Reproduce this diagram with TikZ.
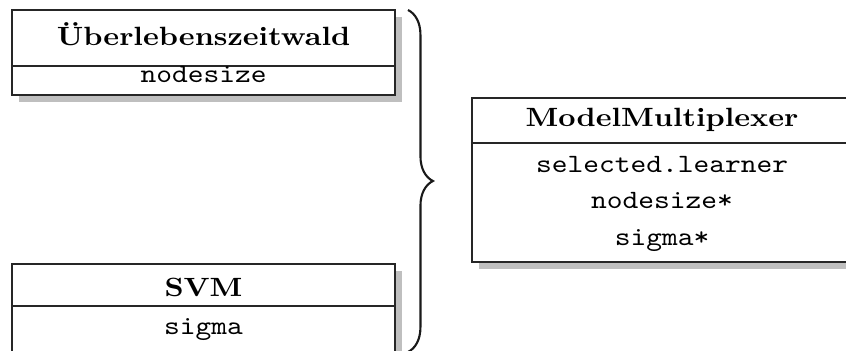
\documentclass[tikz,border=0pt]{standalone}
\usepackage{fontspec}
\usetikzlibrary{fit,shadows,decorations.pathreplacing}
% labels are set slightly flattened
\newcommand\squash[1]{\scalebox{1}[0.88]{#1}}
\begin{document}
\begin{tikzpicture}[x=0.33333pt,y=-0.33333pt,
  classbox/.style={draw=black!85, line width=0.75pt, inner sep=0pt, fill=white,
    drop shadow={shadow xshift=2.2pt, shadow yshift=-2.2pt, fill=black!25, opacity=1}},
  divider/.style={draw=black!85, line width=0.55pt},
  classname/.style={font=\bfseries, anchor=base, inner sep=0pt},
  attrname/.style={font=\ttfamily, anchor=base, inner sep=0pt},
  bracest/.style={draw=black!90, line width=0.7pt, decorate,
    decoration={brace, amplitude=8.3pt}}]
\useasboundingbox (0,0) rectangle (846,351);
\clip (0,0) rectangle (846,351);

% survival forest learner
\node[classbox, fit={(12,10) (395,95)}] (uber) {};
\draw[divider] (uber.west |- 0,66) -- (uber.east |- 0,66);
\node[classname] (uberT) at (203.5,45.7) {\squash{Überlebenszeitwald}};
\node[attrname] (uberA) at (203.5,82.7) {\squash{nodesize}};

% support vector machine learner
\node[classbox, fit={(12,264) (395,372)}] (svm) {};
\draw[divider] (svm.west |- 0,306) -- (svm.east |- 0,306);
\node[classname] (svmT) at (203.5,296) {\squash{SVM}};
\node[attrname] (svmA) at (203.5,334) {\squash{sigma}};

% multiplexer combining both learners
\node[classbox, fit={(472,98) (852,262)}] (mm) {};
\draw[divider] (mm.west |- 0,143) -- (mm.east |- 0,143);
\node[classname] (mmT) at (662,127) {\squash{ModelMultiplexer}};
\node[attrname] (mmA) at (662,172) {\squash{selected.learner}};
\node[attrname] (mmB) at (662,208) {\squash{nodesize*}};
\node[attrname] (mmC) at (662,245) {\squash{sigma*}};

% brace grouping the base learners
\coordinate (bt) at (408,10);
\coordinate (bb) at (408,352);
\draw[bracest] (bt) -- (bb);
\end{tikzpicture}
\end{document}
